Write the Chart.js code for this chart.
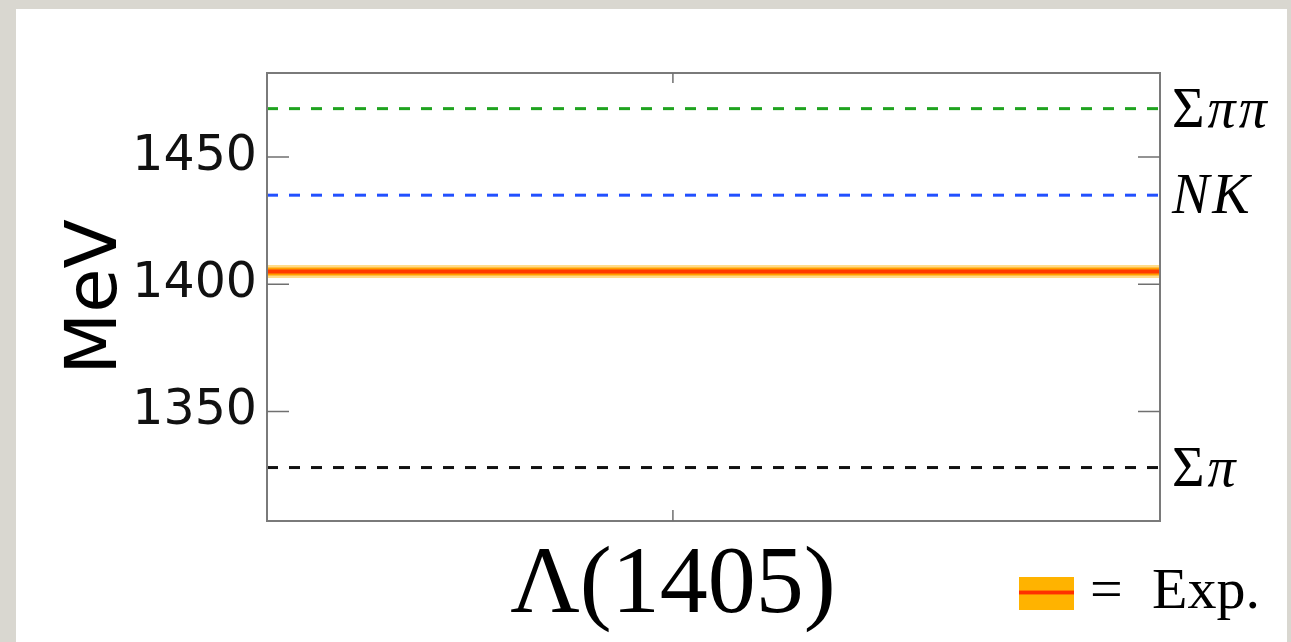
<!DOCTYPE html>
<html>
<head>
<meta charset="utf-8">
<script src="https://cdn.jsdelivr.net/npm/chart.js@4/dist/chart.umd.min.js"></script>
<style>
  html, body { margin: 0; padding: 0; background: #d9d7d0; overflow: hidden; }
  #panel { position: absolute; left: 16px; top: 9px; width: 1271px; height: 640px; background: #fff; }
  #c { position: absolute; left: 0; top: 0; }
</style>
</head>
<body>
<div id="panel"></div>
<canvas id="c" width="1291" height="642"></canvas>
<script>
// Dati (MeV)
const states = ['Λ(1405)'];
const statePositions = [0];
const xRange = [-1, 1.2];
const yRange = [1307, 1483];
const yTicks = [1350, 1400, 1450];
const thresholdNames = ['Σππ', 'NK', 'Σπ'];
const thresholdValues = [1469, 1435, 1328];
const expValues = [1405];

const thresholdColors = ['#1fa31f', '#2250ff', '#111111'];

// linea orizzontale su tutto l'asse x
const hLine = (y, color, width, order, dash) => ({
  data: [{ x: xRange[0], y: y }, { x: xRange[1], y: y }],
  borderColor: color,
  borderWidth: width,
  borderDash: dash || [],
  borderCapStyle: 'butt',
  pointRadius: 0,
  fill: false,
  order: order // ordine più basso = disegnato sopra
});

const datasets = [];
thresholdValues.forEach((v, i) => datasets.push(hLine(v, thresholdColors[i], 3, 0, [11, 11])));
expValues.forEach(v => {
  datasets.push(hLine(v, '#ffdc8a', 13, 3));
  datasets.push(hLine(v, '#ffa000', 8, 2));
  datasets.push(hLine(v, '#ff3a00', 4, 1));
});

// cornice, tacche interne, etichette delle soglie e legenda
const extras = {
  id: 'extras',
  afterDatasetsDraw(chart) {
    const { ctx, chartArea: a, scales: { x, y } } = chart;
    ctx.save();
    ctx.strokeStyle = '#7a7a7a';
    ctx.lineWidth = 2;
    ctx.strokeRect(a.left, a.top, a.right - a.left, a.bottom - a.top);

    ctx.lineWidth = 1.5;
    ctx.strokeStyle = '#707070';
    yTicks.forEach(v => {
      const py = y.getPixelForValue(v);
      ctx.beginPath();
      ctx.moveTo(a.left, py); ctx.lineTo(a.left + 22, py);
      ctx.moveTo(a.right, py); ctx.lineTo(a.right - 22, py);
      ctx.stroke();
    });
    statePositions.forEach(v => {
      const px = x.getPixelForValue(v);
      ctx.beginPath();
      ctx.moveTo(px, a.top); ctx.lineTo(px, a.top + 10);
      ctx.moveTo(px, a.bottom); ctx.lineTo(px, a.bottom - 11);
      ctx.stroke();
    });

    // Σ dritta, le altre lettere in corsivo
    ctx.fillStyle = '#000';
    ctx.textBaseline = 'alphabetic';
    thresholdNames.forEach((name, i) => {
      const py = y.getPixelForValue(thresholdValues[i]) + 18;
      let px = a.right + 12;
      for (const ch of name) {
        ctx.font = (ch === 'Σ' ? '' : 'italic ') + '56px "Liberation Serif"';
        ctx.fillText(ch, px, py);
        px += ctx.measureText(ch).width + 3;
      }
    });

    // legenda "= Exp."
    ctx.fillStyle = '#ffb300';
    ctx.fillRect(1019, 577, 55, 33);
    ctx.fillStyle = '#ff7a00';
    ctx.fillRect(1019, 590, 55, 5);
    ctx.fillStyle = '#ff3000';
    ctx.fillRect(1019, 591, 55, 3);
    ctx.fillStyle = '#000';
    ctx.font = '58px "Liberation Serif"';
    ctx.fillText('=', 1090, 608);
    ctx.fillText('Exp.', 1152, 608);
    ctx.restore();
  }
};

new Chart(document.getElementById('c').getContext('2d'), {
  type: 'line',
  data: { datasets: datasets },
  options: {
    responsive: false,
    animation: false,
    layout: { padding: { left: 49, top: 73, right: 131, bottom: 0 } },
    plugins: { legend: { display: false }, tooltip: { enabled: false } },
    scales: {
      x: {
        type: 'linear',
        min: xRange[0],
        max: xRange[1],
        afterBuildTicks: s => { s.ticks = statePositions.map(v => ({ value: v })); },
        afterFit: s => { s.height = 121; },
        grid: { display: false, drawTicks: false },
        border: { display: false },
        ticks: {
          callback: v => states[statePositions.indexOf(v)],
          autoSkip: false,
          maxRotation: 0,
          padding: 8,
          color: '#000',
          font: { family: 'Liberation Serif', size: 96 }
        }
      },
      y: {
        min: yRange[0],
        max: yRange[1],
        afterBuildTicks: s => { s.ticks = yTicks.map(v => ({ value: v })); },
        afterFit: s => { s.width = 218; },
        grid: { display: false, drawTicks: false },
        border: { display: false },
        ticks: {
          callback: v => String(v),
          padding: 10,
          color: '#111',
          font: { family: 'DejaVu Sans', size: 49 }
        }
      ,
        title: {
          display: true,
          text: 'MeV',
          color: '#000',
          padding: { top: 5, bottom: 0 },
          font: { family: 'DejaVu Sans', size: 72 }
        }
      }
    }
  },
  plugins: [extras]
});
</script>
</body>
</html>
